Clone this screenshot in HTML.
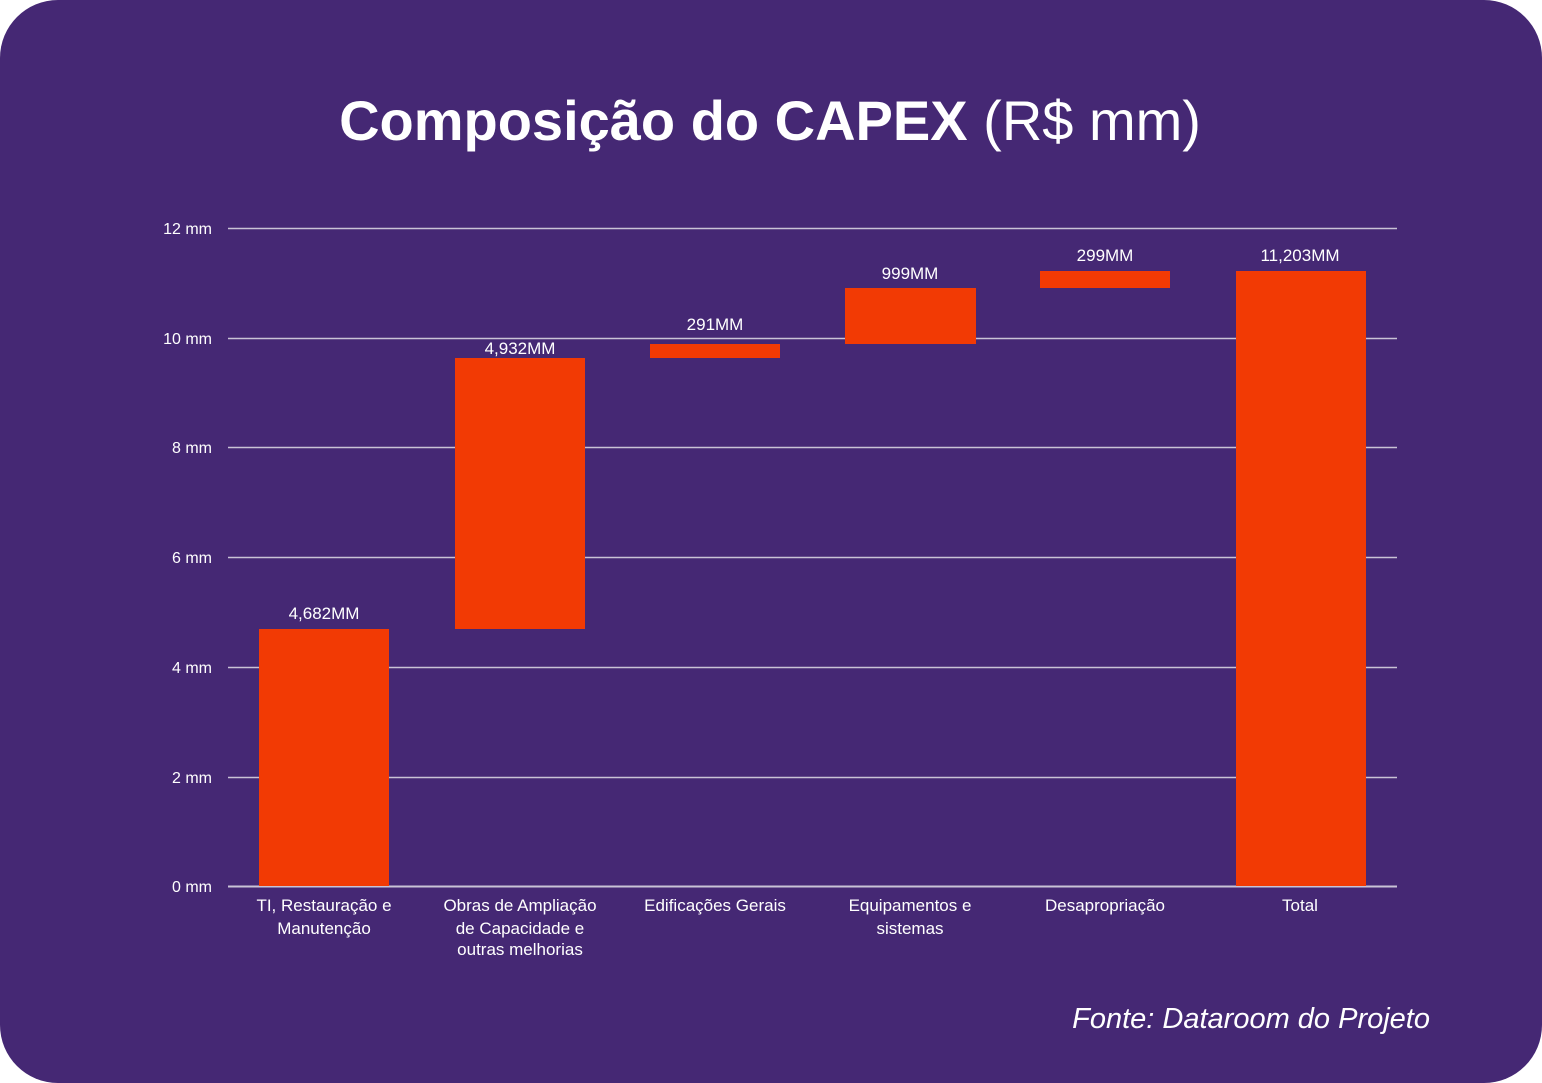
<!DOCTYPE html>
<html><head><meta charset="utf-8"><style>
html,body{margin:0;padding:0;background:#fff;}
svg{display:block;}
text{font-family:"Liberation Sans",sans-serif;fill:#fff;}
</style></head><body>
<svg width="1542" height="1083" viewBox="0 0 1542 1083" xmlns="http://www.w3.org/2000/svg">
<rect x="0" y="0" width="1542" height="1083" rx="58" ry="58" fill="#452874"/>
<text x="770" y="140" text-anchor="middle" font-size="56"><tspan font-weight="bold">Composição do CAPEX</tspan><tspan> (R$ mm)</tspan></text>
<g stroke="#c9c3d6" stroke-width="1.5">
<line x1="228" y1="228.5" x2="1397" y2="228.5"/>
<line x1="228" y1="338.5" x2="1397" y2="338.5"/>
<line x1="228" y1="447.5" x2="1397" y2="447.5"/>
<line x1="228" y1="557.5" x2="1397" y2="557.5"/>
<line x1="228" y1="667.5" x2="1397" y2="667.5"/>
<line x1="228" y1="777.5" x2="1397" y2="777.5"/>
<line x1="228" y1="886.5" x2="1397" y2="886.5" stroke-width="2"/>
</g>
<g font-size="16" text-anchor="end">
<text x="212" y="234">12 mm</text>
<text x="212" y="344">10 mm</text>
<text x="212" y="453">8 mm</text>
<text x="212" y="563">6 mm</text>
<text x="212" y="673">4 mm</text>
<text x="212" y="783">2 mm</text>
<text x="212" y="892">0 mm</text>
</g>
<g fill="#f23a04">
<rect x="259" y="629" width="130" height="257"/>
<rect x="455" y="358" width="130" height="271"/>
<rect x="650" y="344" width="130" height="14"/>
<rect x="845" y="288" width="131" height="56"/>
<rect x="1040" y="271" width="130" height="17"/>
<rect x="1236" y="271" width="130" height="615"/>
</g>
<g font-size="17" text-anchor="middle">
<text x="324" y="619">4,682MM</text>
<text x="520" y="354">4,932MM</text>
<text x="715" y="330">291MM</text>
<text x="910" y="279">999MM</text>
<text x="1105" y="261">299MM</text>
<text x="1300" y="261">11,203MM</text>
<text x="324" y="911">TI, Restauração e</text>
<text x="324" y="934">Manutenção</text>
<text x="520" y="911">Obras de Ampliação</text>
<text x="520" y="934">de Capacidade e</text>
<text x="520" y="955">outras melhorias</text>
<text x="715" y="911">Edificações Gerais</text>
<text x="910" y="911">Equipamentos e</text>
<text x="910" y="934">sistemas</text>
<text x="1105" y="911">Desapropriação</text>
<text x="1300" y="911">Total</text>
</g>
<text x="1430" y="1028" text-anchor="end" font-size="29" font-style="italic">Fonte: Dataroom do Projeto</text>
</svg>
</body></html>
